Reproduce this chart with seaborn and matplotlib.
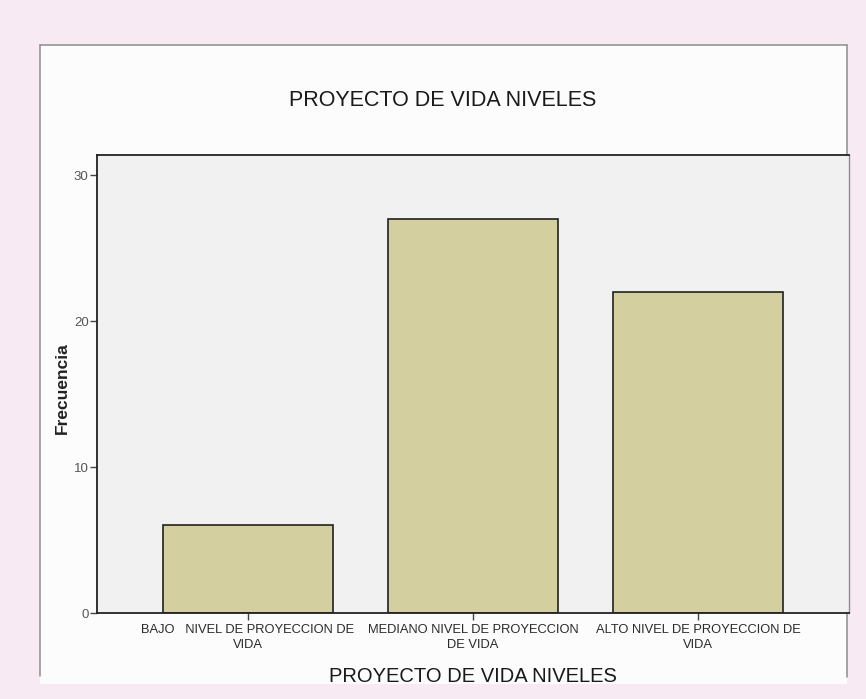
import matplotlib
matplotlib.use("Agg")
import matplotlib.pyplot as plt
from matplotlib.patches import Rectangle
from matplotlib.lines import Line2D
import seaborn as sns
import pandas as pd

niveles = [
    "BAJO   NIVEL DE PROYECCION DE\nVIDA",
    "MEDIANO NIVEL DE PROYECCION\nDE VIDA",
    "ALTO NIVEL DE PROYECCION DE\nVIDA",
]
frecuencia = [6, 27, 22]
y_ticks = [0, 10, 20, 30]

df = pd.DataFrame({"nivel": niveles, "frecuencia": frecuencia})

sns.set_style("white")
plt.rcParams['font.family'] = ['Liberation Sans', 'DejaVu Sans']

fig = plt.figure(figsize=(8.66, 6.99), dpi=100, facecolor='#f8eaf3')
W, H = 866, 699

def fx(px):
    return px / W

def fy(py):
    return 1 - py / H

# white chart frame (scan of an SPSS output)
fig.patches.append(Rectangle((fx(40), fy(684)), fx(847 - 40), (684 - 45) / H,
                             transform=fig.transFigure, facecolor='#fcfcfc',
                             edgecolor='none', zorder=-5))
for xs, ys in [([40, 847], [45, 45]), ([40, 40], [45, 676]), ([847, 847], [45, 677])]:
    fig.lines.append(Line2D([fx(x) for x in xs], [fy(y) for y in ys],
                            transform=fig.transFigure, color='#8c8c8c',
                            linewidth=1.1, zorder=-4))

ax = fig.add_axes([fx(97), fy(613), fx(849 - 97), (613 - 155) / H])
ax.set_facecolor('#f1f1f2')

sns.barplot(data=df, x='nivel', y='frecuencia', color='#d3cf9f',
            edgecolor='#222222', linewidth=1.2, width=0.755, saturation=1, ax=ax)

ax.set_xlim(-0.67, 2.67)
ax.set_ylim(0, 31.37)
ax.set_yticks(y_ticks)
ax.tick_params(axis='y', length=5, width=1, color='#444444', labelsize=9.5,
               labelcolor='#555555', left=True, pad=1)
ax.tick_params(axis='x', length=5, width=1, color='#444444', labelsize=9.3,
               labelcolor='#2a2a2a', bottom=True, pad=3)
for lbl in ax.get_xticklabels():
    lbl.set_linespacing(1.35)

for side in ['left', 'bottom', 'top']:
    ax.spines[side].set_color('#222222')
    ax.spines[side].set_linewidth(1.3)
ax.spines['right'].set_color('#8c8c8c')
ax.spines['right'].set_linewidth(1.0)

ax.set_xlabel('PROYECTO DE VIDA NIVELES', fontsize=14.5, color='#1a1a1a')
ax.xaxis.set_label_coords(0.5, (613 - 676) / (613 - 155), transform=ax.transAxes)
ax.xaxis.label.set_va('center')
ax.set_ylabel('Frecuencia', fontsize=12.5, fontweight='bold', color='#222222')
ax.yaxis.set_label_coords(fx(62), fy(388), transform=fig.transFigure)
ax.yaxis.label.set_va('center')

fig.text(fx(443), fy(101), 'PROYECTO DE VIDA NIVELES', ha='center', va='center',
         fontsize=15.5, color='#1a1a1a')

fig.savefig('out.png', dpi=100, facecolor=fig.get_facecolor())
